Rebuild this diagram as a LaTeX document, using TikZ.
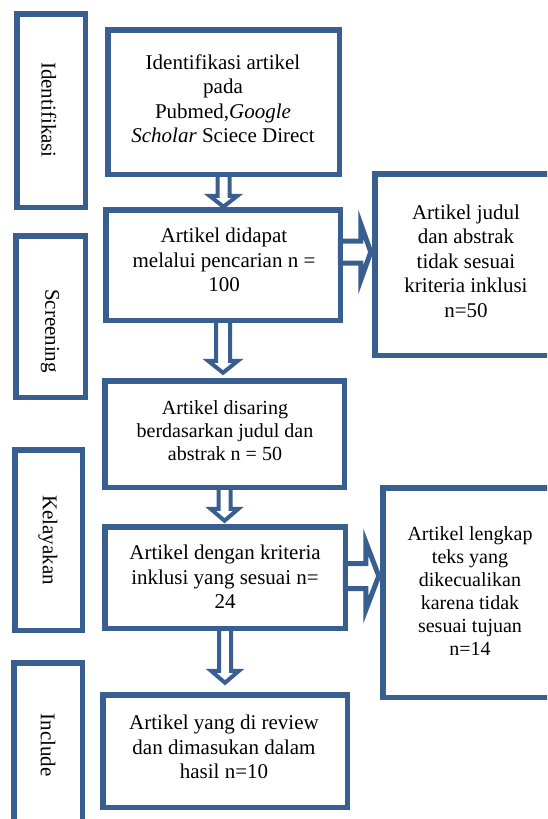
\documentclass[tikz,border=0pt]{standalone}
\usepackage{fontspec}
\setmainfont{Liberation Serif}[Ligatures=NoCommon]
\usetikzlibrary{calc,backgrounds}
\definecolor{bblue}{RGB}{57,95,145}
\begin{document}
\begin{tikzpicture}[x=1pt,y=-1pt,
  box/.style={draw=bblue, line width=5.5pt, outer sep=0pt, inner sep=0pt, rectangle},
  txt/.style={align=center, font=\fontsize{21}{24.5}\selectfont, inner sep=0pt, text=black},
  txts/.style={align=center, font=\fontsize{20}{23}\selectfont, inner sep=0pt, text=black},
  vlab/.style={font=\fontsize{21}{24}\selectfont, rotate=-90, inner sep=0pt, text=black},
  darrow/.style n args={3}{draw=bblue, fill=white, line width=4pt,
    to path={let \p1=(\tikztostart), \p2=(\tikztotarget) in
      (\x1-#1pt,\y1) -- (\x1-#1pt,\y2+#3pt) -- (\x1-#2pt,\y2+#3pt) -- (\x1,\y2)
      -- (\x1+#2pt,\y2+#3pt) -- (\x1+#1pt,\y2+#3pt) -- (\x1+#1pt,\y1) -- cycle}},
  rarrow/.style n args={3}{draw=bblue, fill=white, line width=5pt,
    to path={let \p1=(\tikztostart), \p2=(\tikztotarget) in
      (\x1,\y1-#1pt) -- (\x2-#3pt,\y1-#1pt) -- (\x2-#3pt,\y1-#2pt) -- (\x2,\y1)
      -- (\x2-#3pt,\y1+#2pt) -- (\x2-#3pt,\y1+#1pt) -- (\x1,\y1+#1pt) -- cycle}}
]
\useasboundingbox (0,0) rectangle (547,819);
\clip (0,0) rectangle (547,819);

% phase boxes (left)
\node[box, minimum width=68.5pt, minimum height=193.5pt] (l1) at (51,110.5) {};
\node[box, minimum width=69.5pt, minimum height=161.5pt] (l2) at (50.5,316.5) {};
\node[box, minimum width=67.5pt, minimum height=180.5pt] (l3) at (48.5,540) {};
\node[box, minimum width=68.5pt, minimum height=177.25pt] (l4) at (48,751.4) {};
\node[vlab] (lt1) at (49,110) {Identifikasi};
\node[vlab] (lt2) at (50,331) {Screening};
\node[vlab] (lt3) at (48,540) {Kelayakan};
\node[vlab] (lt4) at (48,745) {Include};

% main boxes
\node[box, minimum width=231.5pt, minimum height=144.5pt] (b1) at (223.5,102) {};
\node[box, minimum width=234.5pt, minimum height=110.5pt] (b2) at (223,265) {};
\node[box, minimum width=239.5pt, minimum height=106.5pt] (b3) at (224.5,434) {};
\node[box, minimum width=240.5pt, minimum height=101.5pt] (b4) at (225,577.5) {};
\node[box, minimum width=244.5pt, minimum height=112.5pt] (b5) at (225,751) {};

% side boxes
\node[box, minimum width=195.25pt, minimum height=181.5pt] (s1) at (472.4,264.5) {};
\node[box, minimum width=187.25pt, minimum height=209.5pt] (s2) at (476.4,592.5) {};

% texts
\node[txt] (t1) at (223,98.5) {Identifikasi artikel\\pada\\Pubmed,\textit{Google}\\\textit{Scholar} Sciece Direct};
\node[txt] (t2) at (224,260) {Artikel didapat\\melalui pencarian n =\\100};
\node[txts] (t3) at (225,431) {Artikel disaring\\berdasarkan judul dan\\abstrak n = 50};
\node[txt] (t4) at (225,577) {Artikel dengan kriteria\\inklusi yang sesuai n=\\24};
\node[txt] (t5) at (224,747) {Artikel yang di review\\dan dimasukan dalam\\hasil n=10};
\node[txt] (t6) at (466,261) {Artikel judul\\dan abstrak\\tidak sesuai\\kriteria inklusi\\n=50};
\node[txts] (t7) at (470,591) {Artikel lengkap\\teks yang\\dikecualikan\\karena tidak\\sesuai tujuan\\n=14};

\begin{pgfonlayer}{background}
\fill[white] (0,0) rectangle (547,819);
\draw[darrow={6}{14}{11}] (b1.south) to ($(b2.north)+(0pt,3pt)$);
\draw[darrow={7}{15}{12}] (b2.south) to ($(b3.north)+(0pt,8pt)$);
\draw[darrow={6}{14}{12}] (b3.south) to ($(b4.north)+(0pt,6pt)$);
\draw[darrow={6}{14}{12}] (b4.south) to ($(b5.north)+(0pt,12pt)$);
\draw[rarrow={11}{28}{10}] ($(b2.east)+(0pt,13pt)$) to ($(s1.west)+(-4pt,0pt)$);
\draw[rarrow={12.5}{34}{13}] ($(b4.east)+(0pt,1.5pt)$) to ($(s2.west)+(-4pt,0pt)$);
\end{pgfonlayer}
\end{tikzpicture}
\end{document}
